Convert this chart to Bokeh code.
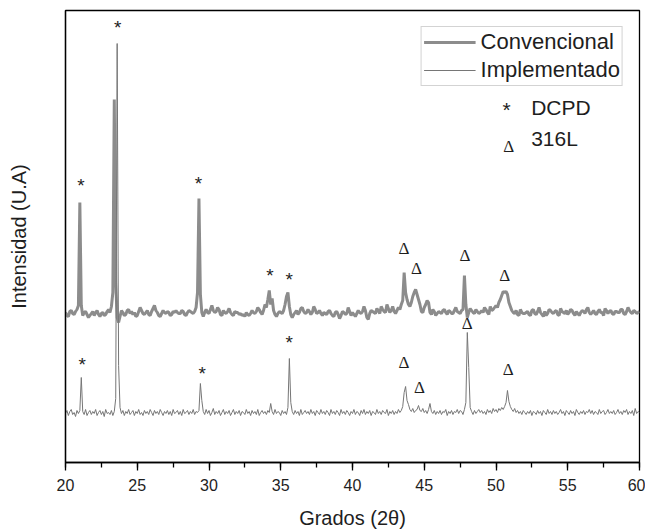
import numpy as np
from bokeh.plotting import figure
from bokeh.models import (Range1d, FixedTicker, SingleIntervalTicker, Legend,
                          LegendItem, ColumnDataSource)
from bokeh.core.properties import value
from bokeh.embed import file_html
from bokeh.resources import INLINE

# ---------------- data ----------------
scan_start = 20.0
scan_step = 0.1

# Convencional, intensity (arbitrary units), every 0.1 deg from 20 to 60
conv_y = [
    150, 147, 146, 151, 152, 149, 148, 151, 153, 157,
    260, 157, 147, 150, 151, 148, 145, 147, 149, 151,
    147, 150, 152, 148, 146, 149, 150, 147, 148, 151,
    153, 150, 156, 170, 363, 180, 145, 140, 146, 152,
    150, 147, 148, 152, 153, 149, 151, 148, 150, 146,
    147, 151, 155, 152, 149, 148, 150, 152, 148, 147,
    151, 154, 157, 152, 150, 147, 146, 149, 152, 150,
    149, 151, 150, 147, 148, 151, 150, 152, 150, 149,
    149, 152, 151, 148, 147, 150, 152, 151, 150, 149,
    151, 155, 170, 264, 168, 150, 146, 150, 153, 150,
    149, 153, 157, 152, 150, 151, 155, 153, 148, 147,
    152, 150, 149, 151, 154, 150, 148, 147, 151, 150,
    150, 148, 149, 147, 148, 146, 150, 148, 147, 149,
    152, 150, 149, 151, 155, 153, 150, 148, 152, 158,
    155, 163, 172, 158, 164, 152, 148, 146, 149, 151,
    150, 149, 152, 158, 166, 170, 156, 148, 145, 148,
    150, 152, 148, 150, 154, 155, 151, 149, 150, 153,
    151, 148, 150, 156, 153, 149, 150, 152, 149, 147,
    150, 149, 148, 151, 152, 149, 147, 146, 150, 151,
    148, 144, 147, 151, 150, 148, 149, 155, 151, 147,
    150, 148, 146, 149, 152, 150, 149, 151, 156, 152,
    145, 143, 149, 152, 151, 150, 149, 154, 152, 149,
    156, 153, 151, 150, 158, 154, 150, 152, 156, 151,
    149, 152, 155, 153, 158, 162, 190, 170, 163, 158,
    156, 160, 166, 170, 173, 168, 163, 158, 151, 150,
    155, 158, 162, 160, 150, 148, 153, 151, 147, 149,
    151, 150, 149, 152, 153, 150, 148, 152, 151, 149,
    149, 152, 155, 151, 150, 149, 152, 153, 187, 158,
    145, 150, 154, 152, 150, 149, 153, 151, 149, 150,
    152, 150, 155, 153, 150, 148, 156, 152, 153, 155,
    157, 155, 160, 163, 167, 171, 170, 171, 168, 160,
    156, 152, 150, 149, 152, 148, 147, 153, 150, 149,
    149, 150, 151, 148, 147, 152, 153, 149, 148, 151,
    155, 150, 148, 146, 151, 147, 149, 153, 152, 150,
    149, 151, 152, 148, 147, 154, 151, 150, 149, 152,
    148, 150, 153, 152, 149, 147, 151, 149, 147, 150,
    152, 151, 149, 153, 155, 150, 148, 150, 152, 149,
    148, 151, 153, 150, 150, 147, 154, 152, 149, 151,
    152, 149, 148, 151, 151, 150, 150, 153, 153, 149,
    148, 151, 155, 152, 150, 149, 152, 151, 149, 150,
    151,
]

# Implementado, intensity (arbitrary units), every 0.1 deg from 20 to 60
impl_y = [
    49, 52, 47, 51, 53, 48, 50, 46, 52, 49,
    52, 85, 51, 48, 53, 47, 50, 52, 48, 51,
    49, 53, 47, 50, 52, 48, 51, 46, 53, 49,
    50, 48, 52, 47, 51, 64, 419, 97, 55, 49,
    52, 47, 51, 49, 53, 48, 50, 52, 47, 51,
    49, 53, 48, 50, 47, 52, 49, 51, 48, 53,
    50, 47, 52, 49, 51, 48, 53, 50, 47, 51,
    49, 52, 48, 51, 47, 53, 49, 50, 52, 48,
    51, 47, 53, 49, 50, 52, 48, 51, 49, 53,
    48, 51, 50, 52, 79, 62, 51, 48, 53, 49,
    52, 47, 50, 54, 48, 51, 49, 52, 47, 50,
    53, 48, 51, 49, 52, 47, 50, 53, 48, 51,
    49, 52, 47, 51, 50, 48, 53, 49, 51, 47,
    52, 49, 51, 48, 53, 47, 50, 52, 49, 51,
    48, 52, 50, 59, 51, 48, 53, 49, 51, 50,
    47, 52, 49, 51, 48, 55, 104, 60, 51, 48,
    52, 49, 51, 47, 53, 48, 50, 52, 49, 51,
    48, 53, 49, 51, 47, 52, 50, 48, 53, 49,
    51, 48, 52, 50, 47, 53, 49, 51, 48, 52,
    50, 47, 53, 49, 51, 48, 52, 50, 47, 51,
    49, 53, 48, 51, 50, 47, 52, 49, 53, 48,
    51, 49, 52, 47, 51, 50, 48, 53, 49, 51,
    48, 52, 50, 49, 53, 47, 51, 49, 52, 48,
    51, 49, 53, 50, 52, 56, 70, 76, 62, 58,
    53, 51, 54, 50, 52, 53, 57, 52, 51, 54,
    50, 52, 49, 53, 59, 51, 49, 52, 48, 51,
    49, 52, 48, 51, 50, 53, 47, 51, 49, 52,
    48, 51, 50, 53, 49, 52, 51, 48, 53, 60,
    130, 95, 55, 51, 48, 52, 49, 51, 53, 50,
    52, 49, 51, 48, 53, 50, 52, 49, 54, 51,
    53, 50, 54, 52, 55, 53, 56, 60, 72, 61,
    56, 53, 51, 54, 50, 52, 49, 51, 48, 52,
    50, 48, 51, 49, 52, 47, 51, 50, 48, 52,
    49, 51, 47, 52, 50, 48, 53, 49, 51, 48,
    52, 49, 51, 48, 50, 53, 49, 51, 47, 52,
    50, 48, 52, 49, 51, 47, 53, 50, 48, 51,
    49, 52, 48, 51, 50, 53, 49, 52, 48, 51,
    50, 48, 53, 49, 51, 52, 48, 50, 53, 49,
    51, 49, 52, 48, 50, 53, 49, 51, 48, 52,
    50, 53, 48, 51, 49, 52, 47, 54, 49, 51,
    50,
]

series_names = ["Convencional", "Implementado"]

# peak markers: DCPD (*) and 316L (Δ)
star_x = [21.07, 23.64, 29.27, 34.24, 35.59, 21.16, 29.53, 35.59]
star_y = [278.7, 437.0, 281.0, 189.3, 184.7, 100.3, 91.0, 122.0]
delta_x = [43.58, 44.46, 47.83, 50.61, 43.58, 44.67, 47.99, 50.85]
delta_y = [213.7, 194.3, 207.0, 187.0, 100.3, 74.7, 138.7, 93.0]

key_symbols = ["*", "Δ"]
key_names = ["DCPD", "316L"]

x_label = "Grados (2θ)"
y_label = "Intensidad (U.A)"

# ---------------- figure ----------------
conv_x = np.round(scan_start + scan_step * np.arange(len(conv_y)), 2)
impl_x = np.round(scan_start + scan_step * np.arange(len(impl_y)), 2)

SANS = "Liberation Sans"
SERIF = "Liberation Serif"
TXT = "#1e1e1e"

p = figure(width=645, height=531, x_range=Range1d(20, 60), y_range=Range1d(0, 452),
           output_backend="svg", toolbar_location=None,
           min_border_left=65, min_border_right=6, min_border_top=10, min_border_bottom=69)
p.background_fill_color = "white"
p.border_fill_color = "white"
p.outline_line_color = "black"
p.outline_line_width = 1.3
p.xgrid.visible = False
p.ygrid.visible = False

r_conv = p.line(conv_x, conv_y, line_color="#8c8c8c", line_width=3)
r_impl = p.line(impl_x, impl_y, line_color="#767676", line_width=1)

# x axis
xa = p.xaxis[0]
xa.ticker = SingleIntervalTicker(interval=5, num_minor_ticks=2)
xa.major_tick_out = 8
xa.major_tick_in = 0
xa.minor_tick_out = 5
xa.minor_tick_in = 0
xa.major_tick_line_color = "black"
xa.minor_tick_line_color = "black"
xa.major_tick_line_width = 1.3
xa.minor_tick_line_width = 1.3
xa.axis_line_color = "black"
xa.axis_line_width = 1.3
xa.major_label_standoff = 8
xa.major_label_text_font = SANS
xa.major_label_text_font_size = "16px"
xa.major_label_text_color = TXT
xa.axis_label = x_label
xa.axis_label_text_font = SANS
xa.axis_label_text_font_size = "20px"
xa.axis_label_text_font_style = "normal"
xa.axis_label_text_color = TXT
xa.axis_label_standoff = 13

# y axis (no ticks)
ya = p.yaxis[0]
ya.ticker = FixedTicker(ticks=[])
ya.major_tick_out = 0
ya.major_tick_in = 0
ya.minor_tick_out = 0
ya.minor_tick_in = 0
ya.major_label_text_font_size = "0px"
ya.axis_line_color = "black"
ya.axis_line_width = 1.3
ya.axis_label = y_label
ya.axis_label_text_font = SANS
ya.axis_label_text_font_size = "20px"
ya.axis_label_text_font_style = "normal"
ya.axis_label_text_color = TXT
ya.axis_label_standoff = 36

# peak markers
star_src = ColumnDataSource(dict(x=star_x, y=star_y, t=["*"] * len(star_x)))
delta_src = ColumnDataSource(dict(x=delta_x, y=delta_y, t=["Δ"] * len(delta_x)))
p.text(x="x", y="y", text="t", source=star_src, text_font=value(SANS),
       text_font_size="19px", text_align="center", text_baseline="alphabetic",
       y_offset=2, text_color=TXT)
p.text(x="x", y="y", text="t", source=delta_src, text_font=value(SERIF),
       text_font_size="17px", text_align="center", text_baseline="alphabetic",
       y_offset=0, text_color=TXT)

# symbol key (* DCPD, Δ 316L)
p.text(x=[50.73], y=[355.3], text=[key_symbols[0]], text_font=value(SANS),
       text_font_size="21px", text_align="center", text_baseline="alphabetic",
       y_offset=2, text_color=TXT)
p.text(x=[50.89], y=[308.7], text=[key_symbols[1]], text_font=value(SERIF),
       text_font_size="17px", text_align="center", text_baseline="alphabetic",
       y_offset=-7, text_color=TXT)
p.text(x=[52.45, 52.45], y=[345.3, 312.0], text=key_names, text_font=value(SANS),
       text_font_size="21px", text_align="left", text_baseline="alphabetic",
       y_offset=[-10, -12], text_color=TXT)

legend = Legend(items=[LegendItem(label=series_names[0], renderers=[r_conv]),
                       LegendItem(label=series_names[1], renderers=[r_impl])],
                location="top_right", margin=16, padding=2, spacing=2,
                glyph_width=52, glyph_height=24, label_height=24, label_standoff=5,
                label_text_font=SANS, label_text_font_size="22px", label_text_color=TXT,
                border_line_color="#a8a8a8", border_line_width=1,
                background_fill_color="white", background_fill_alpha=1.0)
p.add_layout(legend, "center")

open("out.html", "w").write(file_html(p, INLINE))
